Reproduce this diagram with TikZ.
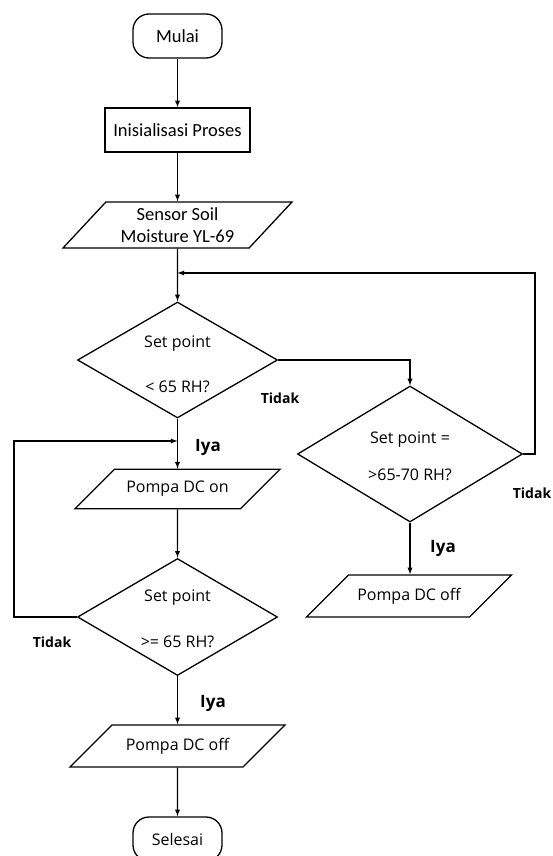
\documentclass[tikz,border=0pt]{standalone}
\usepackage{fontspec}
\setmainfont{Carlito}
\newfontfamily\segoe{Open Sans}
\usetikzlibrary{arrows,shapes,positioning}

\begin{document}
\begin{tikzpicture}[x=1pt,y=-1pt,line width=1.3pt]
\clip (0,0) rectangle (553,856);

%%%%%%%%%%%%%%%%%%%%%%%%%%%%%%%%%%%%%%%%%%%%%%%%%%%%%%%%%%%%%%
%styles
\tikzstyle{terminal}=[draw,rounded corners=16pt,minimum width=89pt,minimum height=44pt,inner sep=0pt]
\tikzstyle{proses}=[draw,minimum width=145pt,minimum height=44pt,inner sep=0pt,font=\fontsize{18.5}{22}\selectfont]
\tikzstyle{io}=[draw,trapezium,trapezium left angle=45,trapezium right angle=135,trapezium stretches body,inner xsep=2pt,inner ysep=13pt,align=center,font=\segoe\fontsize{16}{19}\selectfont]
\tikzstyle{decision}=[draw,diamond,aspect=1.7,inner sep=0pt,align=center,font=\segoe\fontsize{16}{19}\selectfont]
\tikzstyle{labeliya}=[font=\segoe\bfseries\fontsize{17}{20}\selectfont]
\tikzstyle{labeltidak}=[font=\segoe\bfseries\fontsize{14}{17}\selectfont]
\tikzstyle{arrow}=[->,>=latex]

%left column
\node[terminal,font=\fontsize{18.5}{22}\selectfont] (mulai) at (177.5,36) {Mulai};
\node[proses] (init) at (177.5,130) {Inisialisasi Proses};
\node[io,minimum width=229pt,inner ysep=5.5pt,trapezium left angle=47,trapezium right angle=133,font=\fontsize{18.5}{22}\selectfont] (sensor) at (177.5,225) {Sensor Soil\\Moisture YL-69};
\node[decision,minimum width=200pt,minimum height=116pt] (cek1) at (177.5,360) {\rule{0pt}{20pt}Set point\\[26pt]< 65 RH?};
\node[io,minimum width=205pt,inner ysep=12pt] (pompaon) at (177.5,489) {Pompa DC on};
\node[decision,minimum width=200pt,minimum height=117pt] (cek2) at (177.5,617) {\rule{0pt}{16pt}Set point\\[27pt]>= 65 RH?};
\node[io,minimum width=215pt] (pompaoff) at (177.5,746) {Pompa DC off};
\node[terminal,font=\segoe\fontsize{16}{19}\selectfont] (selesai) at (177.5,839) {Selesai};

%right column
\node[decision,minimum width=225pt,minimum height=136pt] (cek3) at (410,454) {\rule{0pt}{17pt}Set point =\\[18pt]>65-70 RH?};
\node[io,minimum width=205pt] (pompaoff2) at (409,596) {Pompa DC off};

%loop points
\coordinate (gabung1) at (177.5,273);
\coordinate (kanan) at (535,273);
\coordinate (gabung2) at (177.5,441);
\coordinate (kiri) at (14,441);

%labels
\node[labeltidak] (tidak1) at (280,398) {Tidak};
\node[labeltidak] (tidak2) at (532,493) {Tidak};
\node[labeltidak] (tidak3) at (52,642) {Tidak};
\node[labeliya] (iya1) at (208,447) {Iya};
\node[labeliya] (iya2) at (213,703) {Iya};
\node[labeliya] (iya3) at (443,548) {Iya};

%%%%%%%%%%%%%%%%%%%%%%%%%%%%%%%%%%%%%%%%%%%%%%%%%%%%%%%%%%%%%%
%ARROWS
\draw[arrow] (mulai) -- (init);
\draw[arrow] (init) -- (sensor);
\draw[arrow] (sensor) -- (cek1);
%tidak -> kanan
\draw[arrow] (cek1.east) -| (cek3.north);
\draw[arrow] (cek3.east) -| (kanan) -- (gabung1);
\draw[arrow] (cek3.south) -- (cek3.south |- pompaoff2.north);
%iya -> bawah
\draw[arrow] (cek1) -- (pompaon);
\draw[arrow] (pompaon) -- (cek2);
\draw[arrow] (cek2.west) -| (kiri) -- (gabung2);
\draw[arrow] (cek2) -- (pompaoff);
\draw[arrow] (pompaoff) -- (selesai);
\end{tikzpicture}
\end{document}
